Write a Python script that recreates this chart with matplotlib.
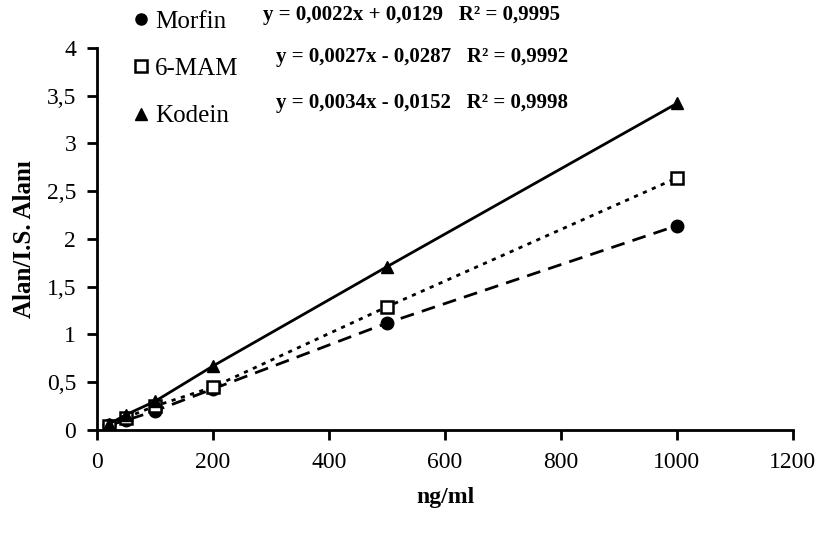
import matplotlib
matplotlib.use("Agg")
import matplotlib.pyplot as plt
from matplotlib.lines import Line2D
from matplotlib.ticker import FuncFormatter

plt.rcParams['font.family'] = ['Liberation Serif', 'DejaVu Serif']

conc = [20, 50, 100, 200, 500, 1000]
morfin = [0.05, 0.10, 0.20, 0.43, 1.12, 2.14]
mam = [0.04, 0.13, 0.25, 0.45, 1.29, 2.64]
kodein = [0.06, 0.16, 0.30, 0.67, 1.71, 3.42]

names = ['Morfin', '6-MAM', 'Kodein']
equations = ['y = 0,0022x + 0,0129   R² = 0,9995',
             'y = 0,0027x - 0,0287   R² = 0,9992',
             'y = 0,0034x - 0,0152   R² = 0,9998']

fig = plt.figure(figsize=(8.18, 5.37), dpi=100)
ax = fig.add_axes([0.1186, 0.1993, 0.8508, 0.7113])

ax.plot(conc, morfin, color='black', lw=2, ls=(0, (5, 3)), marker='o', ms=9,
        mfc='black', mec='black')
ax.plot(conc, mam, color='black', lw=2, ls=(0, (1.5, 2)), marker='s', ms=9,
        mfc='white', mec='black', mew=1.8)
ax.plot(conc, kodein, color='black', lw=2, ls='-', marker='^', ms=9,
        mfc='black', mec='black')

ax.set_xlim(0, 1200)
ax.set_ylim(0, 4)
ax.set_xticks(range(0, 1201, 200))
ax.set_yticks([i * 0.5 for i in range(9)])
ax.yaxis.set_major_formatter(FuncFormatter(lambda v, p: ('%g' % v).replace('.', ',')))
for s in ['top', 'right']:
    ax.spines[s].set_visible(False)
for s in ['left', 'bottom']:
    ax.spines[s].set_linewidth(2)
ax.tick_params(direction='out', length=7, width=2, labelsize=17)
ax.tick_params(axis='x', pad=9)
ax.tick_params(axis='y', pad=8)
ax.set_xlabel('ng/ml', fontsize=17, fontweight='bold', labelpad=10)
ax.set_ylabel('Alan/I.S. Alanı', fontsize=18, fontweight='bold', labelpad=8)

handles = [Line2D([], [], ls='none', marker='o', ms=8, mfc='black', mec='black'),
           Line2D([], [], ls='none', marker='s', ms=8, mfc='white', mec='black', mew=1.8),
           Line2D([], [], ls='none', marker='^', ms=8, mfc='black', mec='black')]
fig.legend(handles, names, loc='upper left', bbox_to_anchor=(0.153, 1.0),
           frameon=False, fontsize=18, handlelength=0.5, handletextpad=0.3,
           labelspacing=1.0, borderaxespad=0)

eq_y = [15, 57, 103]
eq_x = [263, 276, 276]
for t, x, y in zip(equations, eq_x, eq_y):
    fig.text(x / 818, 1 - y / 537, t, fontsize=15, fontweight='bold', va='center', ha='left')

fig.savefig('out.png', dpi=100)
